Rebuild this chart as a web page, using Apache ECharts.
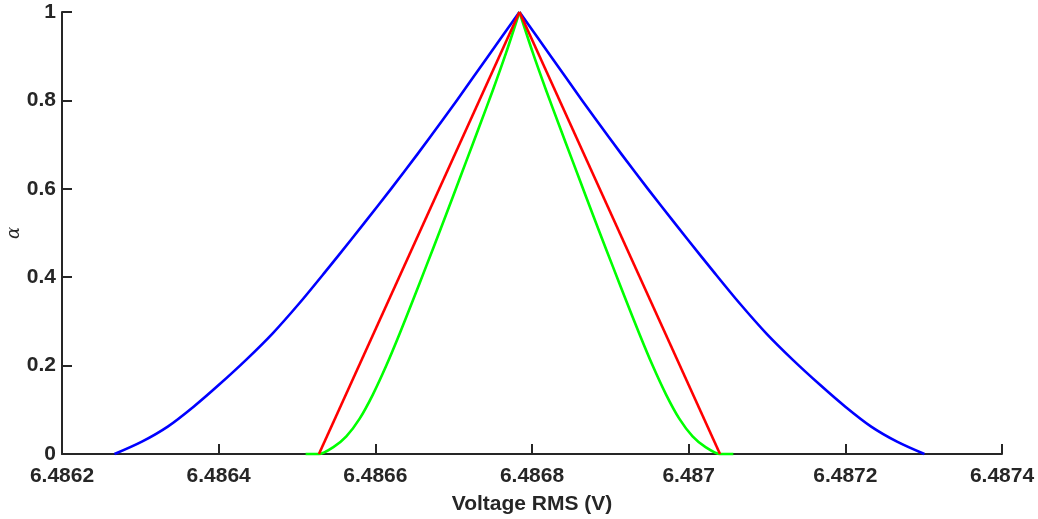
<!DOCTYPE html>
<html>
<head>
<meta charset="utf-8">
<script src="https://cdn.jsdelivr.net/npm/echarts@6/dist/echarts.min.js"></script>
<style>
  html, body { margin: 0; padding: 0; background: #fff; }
  #chart { width: 1038px; height: 519px; }
</style>
</head>
<body>
<div id="chart"></div>
<script>
// Membership functions over the RMS voltage: [voltage, alpha]
const blueCurve = [
  [6.486267, 0], [6.486302, 0.028], [6.486335, 0.062], [6.486368, 0.107],
  [6.486400, 0.156], [6.486435, 0.213], [6.486469, 0.273], [6.486503, 0.341],
  [6.486536, 0.412], [6.486570, 0.487], [6.486603, 0.561], [6.486637, 0.639],
  [6.486670, 0.717], [6.486704, 0.8], [6.486744, 0.9], [6.486784, 1],
  [6.486824, 0.9], [6.486864, 0.8], [6.486898, 0.717], [6.486931, 0.639],
  [6.486965, 0.561], [6.486998, 0.487], [6.487032, 0.412], [6.487065, 0.341],
  [6.487099, 0.273], [6.487133, 0.213], [6.487168, 0.156], [6.487200, 0.107],
  [6.487233, 0.062], [6.487266, 0.028], [6.487301, 0]
];

const greenCurve = [
  [6.486511, 0], [6.486528, 0], [6.486546, 0.015], [6.486563, 0.04],
  [6.486580, 0.08], [6.486597, 0.135], [6.486614, 0.2], [6.486631, 0.272],
  [6.486648, 0.348], [6.486665, 0.425], [6.486682, 0.503], [6.486699, 0.582],
  [6.486716, 0.662], [6.486733, 0.742], [6.486750, 0.823], [6.486767, 0.908],
  [6.486784, 1],
  [6.486801, 0.908], [6.486818, 0.823], [6.486835, 0.742], [6.486852, 0.662],
  [6.486869, 0.582], [6.486886, 0.503], [6.486903, 0.425], [6.486920, 0.348],
  [6.486937, 0.272], [6.486954, 0.2], [6.486971, 0.135], [6.486988, 0.08],
  [6.487005, 0.04], [6.487022, 0.015], [6.487040, 0], [6.487057, 0]
];

const redTriangle = [
  [6.486528, 0], [6.486784, 1], [6.487040, 0]
];

const xRange = [6.4862, 6.4874];
const xStep = 0.0002;
const yRange = [0, 1];
const yStep = 0.2;

const axisColor = '#262626';
const fmt = v => String(+v.toFixed(4));

const chart = echarts.init(document.getElementById('chart'), null, { renderer: 'canvas' });

const axisCommon = {
  axisLine: { show: true, onZero: false, lineStyle: { color: axisColor, width: 2 } },
  axisTick: { show: true, inside: true, length: 10, lineStyle: { color: axisColor, width: 2 } },
  splitLine: { show: false },
  axisLabel: {
    color: axisColor,
    fontFamily: 'Liberation Sans, Arial, sans-serif',
    fontWeight: 'bold',
    fontSize: 21,
    formatter: fmt
  }
};

// Split a curve at its apex so each flank is smoothed on its own and the peak stays sharp
const peakIndex = data => data.reduce((best, p, i) => (p[1] > data[best][1] ? i : best), 0);

const flanks = (name, data, color, z, smooth) => {
  const k = peakIndex(data);
  const base = {
    name,
    type: 'line',
    showSymbol: false,
    symbol: 'none',
    smooth,
    clip: false,
    z,
    lineStyle: { color, width: 2.6, join: 'miter', cap: 'butt' }
  };
  return [
    Object.assign({}, base, { data: data.slice(0, k + 1) }),
    Object.assign({}, base, { data: data.slice(k) })
  ];
};

chart.setOption({
  animation: false,
  backgroundColor: '#ffffff',
  grid: { left: 62, right: 36, top: 12, bottom: 65, containLabel: false, outerBoundsMode: 'none' },
  xAxis: Object.assign({}, axisCommon, {
    type: 'value',
    min: xRange[0],
    max: xRange[1],
    interval: xStep,
    name: 'Voltage RMS (V)',
    nameLocation: 'middle',
    nameGap: 40,
    nameTextStyle: {
      color: axisColor,
      fontFamily: 'Liberation Sans, Arial, sans-serif',
      fontWeight: 'bold',
      fontSize: 21
    },
    axisLabel: Object.assign({}, axisCommon.axisLabel, { margin: 12 })
  }),
  yAxis: Object.assign({}, axisCommon, {
    type: 'value',
    min: yRange[0],
    max: yRange[1],
    interval: yStep,
    name: 'α',
    nameLocation: 'middle',
    nameGap: 39,
    nameMoveOverlap: false,
    nameTextStyle: {
      color: axisColor,
      fontFamily: 'DejaVu Serif, Liberation Serif, serif',
      fontStyle: 'italic',
      fontSize: 18
    },
    axisLabel: Object.assign({}, axisCommon.axisLabel, { margin: 6 })
  }),
  series: [
    ...flanks('blue', blueCurve, '#0000ff', 3, 0.3),
    ...flanks('green', greenCurve, '#00ff00', 4, 0.3),
    ...flanks('red', redTriangle, '#ff0000', 5, false)
  ]
});
</script>
</body>
</html>
